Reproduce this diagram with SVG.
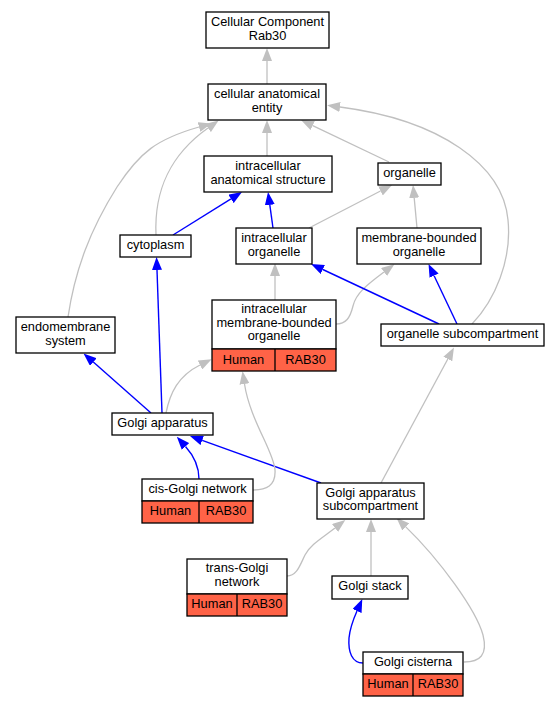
<svg xmlns="http://www.w3.org/2000/svg" width="560" height="707" viewBox="0 0 560 707">
<style>
text{font-family:"Liberation Sans",Arial,sans-serif;font-size:12.8px;fill:#000;text-anchor:middle}
.box{fill:#fff;stroke:#000;stroke-width:1.3}
.cell{fill:#ff6347;stroke:#000;stroke-width:1.3}
.sep{stroke:#000;stroke-width:1.3;fill:none}
.g{fill:none;stroke:#c0c0c0;stroke-width:1.3;marker-end:url(#ag)}
.b{fill:none;stroke:#0000ff;stroke-width:1.4;marker-end:url(#ab)}
</style>
<defs>
<marker id="ag" viewBox="0 0 13 10" refX="0" refY="5" markerWidth="13" markerHeight="10" markerUnits="userSpaceOnUse" orient="auto"><path d="M0,0 L13,5 L0,10 z" fill="#c0c0c0"/></marker>
<marker id="ab" viewBox="0 0 13 10" refX="0" refY="5" markerWidth="13" markerHeight="10" markerUnits="userSpaceOnUse" orient="auto"><path d="M0,0 L13,5 L0,10 z" fill="#0000ff"/></marker>
</defs>
<g id="connectors">
<path class="g" d="M267,84 L267,61"/>
<path class="g" d="M267,156 L267,133"/>
<path class="g" d="M389,162 L312.7,125.6"/>
<path class="b" d="M173,235 L231,198.9"/>
<path class="b" d="M273,228 L269.8,204.9"/>
<path class="g" d="M309,228 L380.5,191"/>
<path class="g" d="M417,228 L414.2,197.9"/>
<path class="g" d="M156,235 C154,190 170,155 208,128"/>
<path class="g" d="M68,317 C75,270 90,230 117,187 C140,152 157,139 199,127"/>
<path class="g" d="M472,324 C495,300 512,260 508,220 C503,165 440,120 340,107"/>
<path class="g" d="M275,300 L275,276"/>
<path class="g" d="M336,324 C346,324 350,318 353,306 C356,293 368,284 384,272"/>
<path class="b" d="M439,324 L322.8,269.5"/>
<path class="b" d="M457,324 L434.1,275.7"/>
<path class="b" d="M151,413 L93.3,362.1"/>
<path class="b" d="M162,413 L157,270"/>
<path class="g" d="M166,413 C170,393 178,376 200,365"/>
<path class="b" d="M199,479 C199,466 194,456 185.5,446.5"/>
<path class="b" d="M321,483 L202.2,440.4"/>
<path class="g" d="M253,490 C266,490 276,486 275,470 C274,452 250,420 244.5,384"/>
<path class="g" d="M381,483 L447.8,359"/>
<path class="g" d="M287,576 C297,576 300,565 305,555 C310,545 322,538 335,528"/>
<path class="g" d="M371,576 L371,532"/>
<path class="b" d="M363,663 C352,663 348,652 349,638 C350,628 353,620 357,611"/>
<path class="g" d="M464,662 C480,662 488,655 483,635 C476,610 440,560 405.8,526.9"/>
</g>
<g id="n1"><rect class="box" x="206" y="12" width="123" height="36"/><text x="267.5" y="26">Cellular Component<tspan x="267.5" dy="13.5">Rab30</tspan></text></g>
<g id="n2"><rect class="box" x="208" y="84" width="118" height="36"/><text x="267" y="98">cellular anatomical<tspan x="267" dy="13.5">entity</tspan></text></g>
<g id="n3"><rect class="box" x="204" y="156" width="128" height="36"/><text x="268" y="170">intracellular<tspan x="268" dy="13.5">anatomical structure</tspan></text></g>
<g id="n4"><rect class="box" x="378" y="163" width="63" height="22"/><text x="409.5" y="177">organelle</text></g>
<g id="n5"><rect class="box" x="120" y="235" width="71" height="22"/><text x="155.5" y="249">cytoplasm</text></g>
<g id="n6"><rect class="box" x="236" y="228" width="76" height="36"/><text x="274" y="242">intracellular<tspan x="274" dy="13.5">organelle</tspan></text></g>
<g id="n7"><rect class="box" x="357" y="228" width="124" height="36"/><text x="419" y="242">membrane-bounded<tspan x="419" dy="13.5">organelle</tspan></text></g>
<g id="n8"><rect class="box" x="16" y="317" width="99" height="36"/><text x="65.5" y="331">endomembrane<tspan x="65.5" dy="13.5">system</tspan></text></g>
<g id="n9"><rect class="box" x="112" y="413" width="101" height="22"/><text x="162.5" y="427">Golgi apparatus</text></g>
<g id="n10"><rect class="box" x="212" y="300" width="124" height="49"/><rect class="cell" x="212" y="349" width="124" height="22"/><path class="sep" d="M275,349 L275,371"/><text x="274" y="313">intracellular<tspan x="274" dy="13.5">membrane-bounded</tspan><tspan x="274" dy="13.5">organelle</tspan></text><text x="243.5" y="363.5">Human</text><text x="305.5" y="363.5">RAB30</text></g>
<g id="n11"><rect class="box" x="381" y="324" width="163" height="22"/><text x="462.5" y="338">organelle subcompartment</text></g>
<g id="n12"><rect class="box" x="142" y="479" width="111" height="22"/><rect class="cell" x="142" y="501" width="111" height="22"/><path class="sep" d="M199,501 L199,523"/><text x="197.5" y="492.5">cis-Golgi network</text><text x="170.5" y="515">Human</text><text x="226" y="515">RAB30</text></g>
<g id="n13"><rect class="box" x="317" y="483" width="107" height="36"/><text x="370.5" y="496.5">Golgi apparatus<tspan x="370.5" dy="13.5">subcompartment</tspan></text></g>
<g id="n14"><rect class="box" x="187" y="559" width="100" height="35"/><rect class="cell" x="187" y="594" width="100" height="22"/><path class="sep" d="M237,594 L237,616"/><text x="237" y="572">trans-Golgi<tspan x="237" dy="13.5">network</tspan></text><text x="212" y="608">Human</text><text x="262" y="608">RAB30</text></g>
<g id="n15"><rect class="box" x="332" y="576" width="76" height="23"/><text x="370" y="590">Golgi stack</text></g>
<g id="n16"><rect class="box" x="363" y="652" width="100" height="22"/><rect class="cell" x="363" y="674" width="100" height="22"/><path class="sep" d="M413,674 L413,696"/><text x="413" y="666">Golgi cisterna</text><text x="388" y="688">Human</text><text x="438" y="688">RAB30</text></g>
</svg>
